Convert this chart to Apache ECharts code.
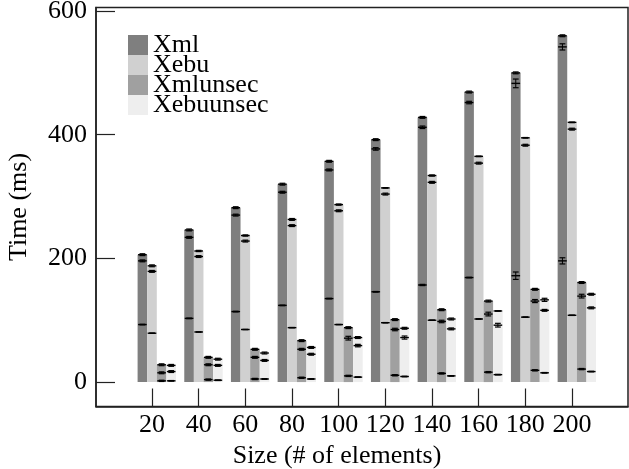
<!DOCTYPE html>
<html>
<head>
<meta charset="utf-8">
<script src="https://cdn.jsdelivr.net/npm/echarts@6/dist/echarts.min.js"></script>
<style>html,body{margin:0;padding:0;background:#fff;}#c{width:629px;height:469px;}</style>
</head>
<body>
<div id="c"></div>
<script>
const sizes = [20, 40, 60, 80, 100, 120, 140, 160, 180, 200];
const seriesNames = ['Xml', 'Xebu', 'Xmlunsec', 'Xebuunsec'];
const yTicks = [0, 200, 400, 600];

// bar heights (ms) and their errors
const xmlTop = [206, 246, 282, 320, 357, 392, 428, 469, 500, 560];
const xmlTopErr = [1.5, 1.5, 1.5, 1.5, 1.5, 1.5, 1.5, 1.5, 1.5, 1.5];
const xmlMid = [196, 234, 270, 307, 343, 377, 412, 452, 483, 542];
const xmlMidErr = [1.5, 1.5, 1.5, 1.5, 1.5, 2, 2, 2, 7, 5];
const xmlLow = [93, 103, 114, 124, 135, 146, 157, 169, 172, 196];
const xmlLowErr = [0.5, 0.5, 0.5, 0.5, 0.5, 0.5, 1, 0.5, 6, 5];

const xebuTop = [188, 212, 237, 263, 287, 314, 334, 365, 395, 420];
const xebuTopErr = [1.5, 1, 1, 1.5, 1, 0.5, 1, 0.5, 0.5, 0.5];
const xebuMid = [179, 203, 228, 253, 277, 304, 323, 354, 383, 409];
const xebuMidErr = [1.5, 1.5, 1.5, 1.5, 1.5, 1.5, 1.5, 1.5, 1.5, 1.5];
const xebuLow = [79, 81, 85, 88, 93, 96, 100, 102, 105, 108];
const xebuLowErr = [0.3, 0.3, 0.3, 0.3, 0.3, 0.3, 0.3, 0.3, 0.3, 0.3];

const xmlunsecTop = [28, 40, 53, 67, 88, 101, 117, 131, 150, 161];
const xmlunsecTopErr = [1.5, 1.5, 1.5, 1.5, 1.5, 1.5, 1.5, 1.5, 1.5, 1.5];
const xmlunsecMid = [15, 28, 40, 53, 71, 85, 98, 110, 131, 139];
const xmlunsecMidErr = [1.5, 1.5, 1.5, 1.5, 3, 2, 2, 3, 2.5, 3];
const xmlunsecLow = [2, 4, 5, 7, 10, 11, 14, 16, 19, 21];
const xmlunsecLowErr = [1, 1, 1, 1, 1, 1, 1, 1, 1, 1];

const xebuunsecTop = [27, 37, 47, 56, 72, 87, 102, 115, 133, 142];
const xebuunsecTopErr = [1.5, 1.5, 1.5, 1.5, 1.5, 1.5, 1.5, 0.5, 2.5, 1.5];
const xebuunsecMid = [17, 27, 35, 45, 59, 72, 86, 92, 116, 120];
const xebuunsecMidErr = [1.5, 1.5, 1.5, 1.5, 2, 2.5, 1.5, 3, 1.5, 1.5];
const xebuunsecLow = [2, 3, 5, 5, 8, 9, 10, 12, 15, 17];
const xebuunsecLowErr = [0.5, 0.5, 0.5, 0.5, 0.5, 0.5, 0.5, 0.5, 0.5, 0.5];

const colors = ['#7f7f7f', '#d0d0d0', '#a0a0a0', '#eeeeee'];
const FONT = '"Liberation Serif", "DejaVu Serif", serif';
const FS = 26;

const barSets = [
  [xmlTop, xmlTopErr, xmlMid, xmlMidErr, xmlLow, xmlLowErr],
  [xebuTop, xebuTopErr, xebuMid, xebuMidErr, xebuLow, xebuLowErr],
  [xmlunsecTop, xmlunsecTopErr, xmlunsecMid, xmlunsecMidErr, xmlunsecLow, xmlunsecLowErr],
  [xebuunsecTop, xebuunsecTopErr, xebuunsecMid, xebuunsecMidErr, xebuunsecLow, xebuunsecLowErr]
];

const chart = echarts.init(document.getElementById('c'), null, {renderer: 'canvas'});

const TOP = 7.5, BOTTOM = 62.5;
const YMIN = -39.5, YMAX = 605.7;
const BAR_FRAC = 9.6 / 46.67;

function errRender(sIdx) {
  return function (params, api) {
    const c = api.value(0);
    const band = api.size([1, 0])[0];
    const bw = band * BAR_FRAC;
    const x = api.coord([c, 0])[0] + (sIdx - 1.5) * bw;
    const children = [];
    for (let k = 0; k < 3; k++) {
      const v = api.value(1 + 2 * k), e = api.value(2 + 2 * k);
      const y = api.coord([c, v])[1];
      const yHi = api.coord([c, v + e])[1];
      const yLo = api.coord([c, v - e])[1];
      const st = {stroke: '#000', lineWidth: 1.2};
      children.push({type: 'line', shape: {x1: x - bw * 0.45, y1: y, x2: x + bw * 0.45, y2: y}, style: {stroke: '#000', lineWidth: 1.4}});
      children.push({type: 'line', shape: {x1: x, y1: yHi, x2: x, y2: yLo}, style: {stroke: '#000', lineWidth: 1}});
      children.push({type: 'line', shape: {x1: x - bw * 0.3, y1: yHi, x2: x + bw * 0.3, y2: yHi}, style: st});
      children.push({type: 'line', shape: {x1: x - bw * 0.3, y1: yLo, x2: x + bw * 0.3, y2: yLo}, style: st});
    }
    return {type: 'group', children: children};
  };
}

const series = [];
seriesNames.forEach(function (name, s) {
  series.push({
    name: name, type: 'bar', xAxisIndex: 1, yAxisIndex: 1,
    data: barSets[s][0], barWidth: 9.6, barGap: '0%',
    itemStyle: {color: colors[s]}, silent: true
  });
});
seriesNames.forEach(function (name, s) {
  const set = barSets[s];
  series.push({
    type: 'custom', xAxisIndex: 1, yAxisIndex: 1, z: 5, silent: true, clip: false,
    renderItem: errRender(s),
    encode: {x: 0, y: [1, 3, 5]},
    data: sizes.map(function (_, i) {
      return [i, set[0][i], set[1][i], set[2][i], set[3][i], set[4][i], set[5][i]];
    })
  });
});

// x scale of the frame axis: tick for 20 at 152px, 46.67px per 20 units
const PX_PER_UNIT = 46.67 / 20;
const FRAME_L = 96, FRAME_R = 628, TICK0 = 152;
const xMin = 20 - (TICK0 - FRAME_L) / PX_PER_UNIT;
const xMax = 20 + (FRAME_R - TICK0) / PX_PER_UNIT;
const groupCenter0 = TICK0 + 4.8;
const barGridLeft = groupCenter0 - 46.67 / 2;

chart.setOption({
  animation: false,
  backgroundColor: '#fff',
  textStyle: {fontFamily: FONT},
  legend: {
    orient: 'vertical', left: 128, top: 32,
    itemWidth: 20, itemHeight: 20, itemGap: -6,
    icon: 'rect', padding: 0,
    data: seriesNames,
    textStyle: {fontFamily: FONT, fontSize: FS, color: '#000', lineHeight: 20}
  },
  grid: [
    {left: FRAME_L, right: 629 - FRAME_R, top: TOP, bottom: BOTTOM, show: true, borderColor: '#222', borderWidth: 1.5, backgroundColor: 'transparent', containLabel: false, outerBoundsMode: 'none'},
    {left: barGridLeft, width: 46.67 * sizes.length, top: TOP, bottom: BOTTOM, show: false, containLabel: false, outerBoundsMode: 'none'}
  ],
  xAxis: [
    {
      type: 'value', gridIndex: 0, min: xMin, max: xMax,
      name: 'Size (# of elements)', nameLocation: 'middle', nameGap: 36,
      nameTextStyle: {fontFamily: FONT, fontSize: FS, color: '#000', padding: [0, 50, 0, 0]},
      axisLine: {show: true, onZero: false, lineStyle: {color: '#222', width: 1.5}},
      axisTick: {show: true, inside: true, length: 18, customValues: sizes, lineStyle: {color: '#222', width: 1.2}},
      axisLabel: {customValues: sizes, fontFamily: FONT, fontSize: FS, color: '#000', margin: 6},
      splitLine: {show: false}
    },
    {
      type: 'category', gridIndex: 1, data: sizes.map(String),
      show: false
    }
  ],
  yAxis: [
    {
      type: 'value', gridIndex: 0, min: YMIN, max: YMAX,
      name: 'Time (ms)', nameLocation: 'middle', nameGap: 64,
      nameTextStyle: {fontFamily: FONT, fontSize: FS, color: '#000'},
      axisLine: {show: true, onZero: false, lineStyle: {color: '#222', width: 1.5}},
      axisTick: {show: true, inside: true, length: 19, customValues: yTicks, lineStyle: {color: '#222', width: 1.2}},
      axisLabel: {customValues: yTicks, fontFamily: FONT, fontSize: FS, color: '#000', margin: 9},
      splitLine: {show: false}
    },
    {
      type: 'value', gridIndex: 1, min: YMIN, max: YMAX, show: false, splitLine: {show: false}
    }
  ],
  series: series
});
</script>
</body>
</html>
